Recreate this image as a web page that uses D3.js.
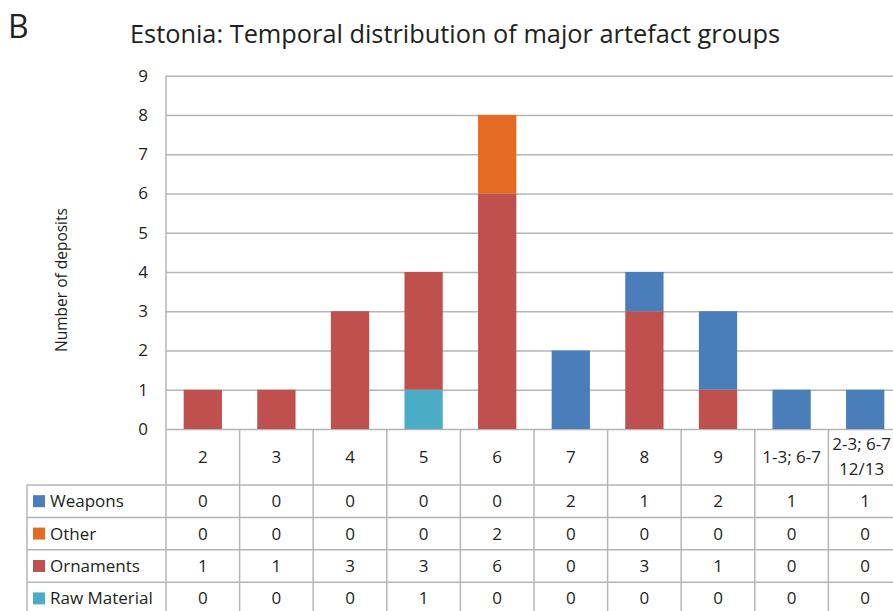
<!DOCTYPE html>
<html>
<head>
<meta charset="utf-8">
<script src="https://cdn.jsdelivr.net/npm/d3@7"></script>
<style>
    body { margin: 0; background: #fff; }
    text { font-family: "Open Sans", "Noto Sans", sans-serif; fill: #231f20; }
</style>
</head>
<body>
<div id="chart"></div>
<script>
//Datos
const categorias = ['2', '3', '4', '5', '6', '7', '8', '9', '1-3; 6-7', '2-3; 6-7|12/13'];
const weapons = [0, 0, 0, 0, 0, 2, 1, 2, 1, 1];
const other = [0, 0, 0, 0, 2, 0, 0, 0, 0, 0];
const ornaments = [1, 1, 3, 3, 6, 0, 3, 1, 0, 0];
const rawMaterial = [0, 0, 0, 1, 0, 0, 0, 0, 0, 0];
const yTicks = [0, 1, 2, 3, 4, 5, 6, 7, 8, 9];

//Series: orden en la tabla (arriba-abajo) y orden de apilado (abajo-arriba)
const series = [
    {key: 'Weapons', values: weapons, color: '#4a7ebb'},
    {key: 'Other', values: other, color: '#e46c22'},
    {key: 'Ornaments', values: ornaments, color: '#c0504d'},
    {key: 'Raw Material', values: rawMaterial, color: '#4bacc6'}
];
const stackOrder = ['Raw Material', 'Ornaments', 'Other', 'Weapons'];

const GRID = '#b5b5b5';

let width = 893, height = 611;
let plot = {left: 166, right: 902, top: 75.7, bottom: 429};
let table = {left: 27, headerBottom: 485, rowH: 32.4};

let svg = d3.select('#chart')
    .append('svg')
    .attr('width', width)
    .attr('height', height);

let x = d3.scaleBand()
    .domain(categorias)
    .range([plot.left, plot.right])
    .padding(0);

let y = d3.scaleLinear()
    .domain([0, 9])
    .range([plot.bottom, plot.top]);

//Tabla de datos apilados
let rows = categorias.map(function(c, i) {
    let r = {cat: c};
    series.forEach(function(s) { r[s.key] = s.values[i]; });
    return r;
});
let stacked = d3.stack().keys(stackOrder)(rows);
let color = d3.scaleOrdinal()
    .domain(series.map(function(s) { return s.key; }))
    .range(series.map(function(s) { return s.color; }));

//Rejilla
let yAxis = function(g) {
    g.call(d3.axisLeft(y).tickValues(yTicks).tickSize(-(plot.right - plot.left)).tickPadding(18));
    g.select('.domain').remove();
    g.selectAll('.tick line').attr('stroke', GRID).attr('stroke-width', 1.5);
    g.selectAll('.tick text')
        .attr('font-size', 17)
        .style('font-family', '"Open Sans", sans-serif')
        .attr('fill', '#231f20');
};
svg.append('g')
    .attr('transform', 'translate(' + plot.left + ',0)')
    .call(yAxis);

//Línea vertical del eje
svg.append('line')
    .attr('x1', plot.left).attr('x2', plot.left)
    .attr('y1', plot.top).attr('y2', height)
    .attr('stroke', GRID).attr('stroke-width', 1.5);

//Barras
let barW = x.bandwidth() * 0.52;
svg.append('g')
    .selectAll('g')
    .data(stacked)
    .enter()
    .append('g')
    .attr('fill', function(d) { return color(d.key); })
    .selectAll('rect')
    .data(function(d) { return d; })
    .enter()
    .append('rect')
    .attr('x', function(d) { return x(d.data.cat) + (x.bandwidth() - barW) / 2; })
    .attr('width', barW)
    .attr('y', function(d) { return y(d[1]); })
    .attr('height', function(d) { return y(d[0]) - y(d[1]); });

//Tabla: líneas
let tableTop = plot.bottom;
let tableBottom = table.headerBottom + series.length * table.rowH;

svg.append('g')
    .selectAll('line')
    .data(categorias)
    .enter()
    .append('line')
    .attr('x1', function(d) { return x(d) + x.bandwidth(); })
    .attr('x2', function(d) { return x(d) + x.bandwidth(); })
    .attr('y1', tableTop)
    .attr('y2', tableBottom)
    .attr('stroke', GRID).attr('stroke-width', 1.5);

svg.append('g')
    .selectAll('line')
    .data(d3.range(series.length + 1))
    .enter()
    .append('line')
    .attr('x1', table.left)
    .attr('x2', plot.right)
    .attr('y1', function(i) { return table.headerBottom + i * table.rowH; })
    .attr('y2', function(i) { return table.headerBottom + i * table.rowH; })
    .attr('stroke', GRID).attr('stroke-width', 1.5);

svg.append('line')
    .attr('x1', table.left).attr('x2', table.left)
    .attr('y1', table.headerBottom).attr('y2', tableBottom)
    .attr('stroke', GRID).attr('stroke-width', 1.5);

//Cabecera de categorías
let header = svg.append('g')
    .selectAll('text')
    .data(categorias)
    .enter()
    .append('text')
    .attr('text-anchor', 'middle')
    .attr('font-size', 17);

header.each(function(d) {
    let lines = d.split('|');
    let t = d3.select(this);
    let cy = (tableTop + table.headerBottom) / 2;
    let cx = x(d) + x.bandwidth() / 2;
    lines.forEach(function(l, i) {
        t.append('tspan')
            .attr('x', cx)
            .attr('y', cy + (i - (lines.length - 1) / 2) * 25)
            .attr('dy', '0.35em')
            .text(l);
    });
    //Si se sale por la derecha, lo movemos dentro
    let box = this.getBBox();
    let over = box.x + box.width - (width - 2);
    if (over > 0) {
        t.selectAll('tspan').attr('x', cx - over);
    }
});

//Filas de la tabla
let filas = svg.append('g')
    .selectAll('g')
    .data(series)
    .enter()
    .append('g')
    .attr('transform', function(d, i) { return 'translate(0,' + (table.headerBottom + i * table.rowH + table.rowH / 2) + ')'; });

filas.append('rect')
    .attr('x', 33)
    .attr('y', -6)
    .attr('width', 12)
    .attr('height', 12)
    .attr('fill', function(d) { return d.color; });

filas.append('text')
    .attr('x', 50)
    .attr('dy', '0.35em')
    .attr('font-size', 17)
    .text(function(d) { return d.key; });

filas.selectAll('.valor')
    .data(function(d) { return d.values; })
    .enter()
    .append('text')
    .attr('class', 'valor')
    .attr('x', function(d, i) { return x(categorias[i]) + x.bandwidth() / 2; })
    .attr('dy', '0.35em')
    .attr('text-anchor', 'middle')
    .attr('font-size', 17)
    .text(function(d) { return d; });

//Títulos
svg.append('text')
    .attr('x', 8)
    .attr('y', 38)
    .attr('font-size', 32)
    .text('B');

svg.append('text')
    .attr('x', 130)
    .attr('y', 43)
    .attr('font-size', 26)
    .attr('textLength', 650)
    .attr('lengthAdjust', 'spacingAndGlyphs')
    .text('Estonia: Temporal distribution of major artefact groups');

svg.append('text')
    .attr('transform', 'translate(67,' + 280 + ') rotate(-90)')
    .attr('text-anchor', 'middle')
    .attr('font-size', 15.5)
    .text('Number of deposits');
</script>
</body>
</html>
